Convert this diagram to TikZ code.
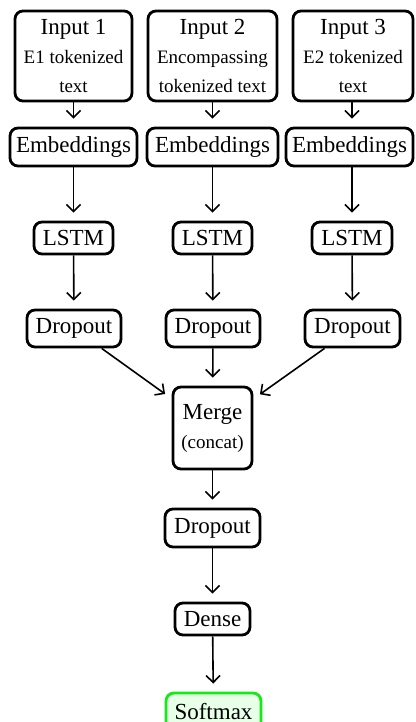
\documentclass[tikz,border=0pt]{standalone}
\usepackage{fontspec}
\setmainfont{Liberation Serif}
\usetikzlibrary{arrows.meta}
\newcommand{\smalltxt}[1]{{\fontsize{9.5}{14.5}\selectfont #1}}
\begin{document}
\begin{tikzpicture}[x=0.5pt,y=-0.5pt,
 box/.style={draw, line width=1.4pt, rounded corners=4pt, fill=white, inner sep=0pt, align=center, font=\fontsize{11.5}{14.5}\selectfont},
 arr/.style={line width=0.8pt, -{Straight Barb[length=3.5pt,width=7pt]}, shorten >=4pt},
 final/.style={box, draw={rgb,255:red,20;green,235;blue,20}, fill={rgb,255:red,232;green,255;blue,232}}]
\useasboundingbox (0,0) rectangle (416,722);
% inputs
\node[box, minimum width=58.5pt, minimum height=45pt] (in1) at (73.5,56) {Input 1\\\smalltxt{E1 tokenized}\\\smalltxt{text}};
\node[box, minimum width=64.5pt, minimum height=45pt] (in2) at (212.5,56) {Input 2\\\smalltxt{Encompassing}\\\smalltxt{tokenized text}};
\node[box, minimum width=60pt, minimum height=45pt] (in3) at (353,56) {Input 3\\\smalltxt{E2 tokenized}\\\smalltxt{text}};
% embeddings
\node[box, minimum width=63.5pt, minimum height=19pt] (em1) at (73.5,147) {Embeddings};
\node[box, minimum width=65.5pt, minimum height=19pt] (em2) at (212.5,147) {Embeddings};
\node[box, minimum width=63.5pt, minimum height=19pt] (em3) at (349.5,147) {Embeddings};
% lstm
\node[box, minimum width=39.5pt, minimum height=16pt] (ls1) at (73.5,238) {LSTM};
\node[box, minimum width=39.5pt, minimum height=16pt] (ls2) at (212.5,238) {LSTM};
\node[box, minimum width=40pt, minimum height=16pt] (ls3) at (352,238) {LSTM};
% dropout
\node[box, minimum width=47pt, minimum height=18.5pt] (dr1) at (74,328.5) {Dropout};
\node[box, minimum width=47pt, minimum height=18.5pt] (dr2) at (213,328.5) {Dropout};
\node[box, minimum width=47.5pt, minimum height=18.5pt] (dr3) at (352.5,328.5) {Dropout};
% merge etc
\node[box, minimum width=39.5pt, minimum height=41pt] (mg) at (212.5,428) {Merge\\\smalltxt{(concat)}};
\node[box, minimum width=47.5pt, minimum height=19pt] (dr4) at (212.5,528) {Dropout};
\node[box, minimum width=37.5pt, minimum height=16pt] (de) at (212.5,619) {Dense};
\node[final, minimum width=47.5pt, minimum height=19pt] (sm) at (213.5,712) {Softmax};
% connectors
\foreach \i in {1,2} {
  \draw[arr] (in\i) -- (em\i);
  \draw[arr] (em\i) -- (ls\i);
}
\draw[arr] (in3.south -| ls3.north) -- (em3.north -| ls3.north);
\draw[arr] (em3.south -| ls3.north) -- (ls3.north);
\foreach \i in {1,2,3} {
  \draw[arr] (ls\i) -- (dr\i);
  \draw[arr] (dr\i) -- (mg);
}
\draw[arr] (mg) -- (dr4);
\draw[arr] (dr4) -- (de);
\draw[arr] (de) -- (sm);
\end{tikzpicture}
\end{document}
